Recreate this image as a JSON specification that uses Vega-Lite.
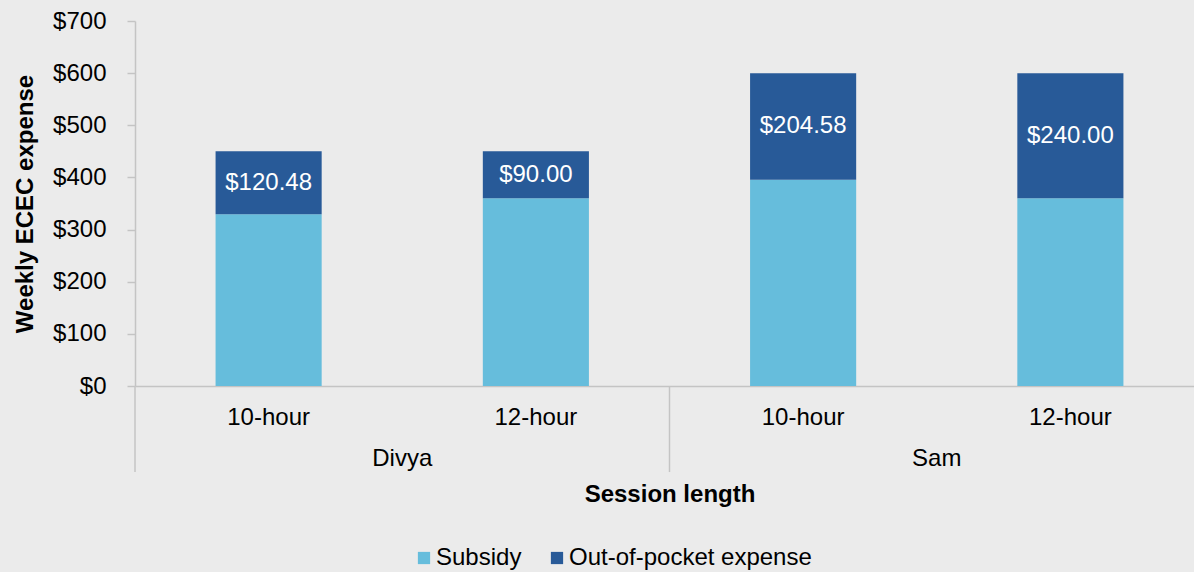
{
  "$schema": "https://vega.github.io/schema/vega-lite/v6.json",
  "autosize": {"type": "none"},
  "width": 1059,
  "height": 365,
  "padding": {"left": 135, "top": 21, "right": 0, "bottom": 186},
  "background": "#EBEBEB",
  "config": {
    "view": {"stroke": null},
    "font": "Liberation Sans",
    "axis": {"grid": false, "labelFont": "Liberation Sans", "titleFont": "Liberation Sans", "labelColor": "#000000", "titleColor": "#000000", "domainColor": "#C4C4C4", "tickColor": "#C4C4C4", "domainWidth": 1.5, "tickWidth": 1.5},
    "legend": {"labelFont": "Liberation Sans"}
  },
  "data": {
    "values": [
      {"person": "Divya", "session": "10-hour", "slot": "Divya 10-hour", "type": "Subsidy", "value": 329.52},
      {"person": "Divya", "session": "10-hour", "slot": "Divya 10-hour", "type": "Out-of-pocket expense", "value": 120.48},
      {"person": "Divya", "session": "12-hour", "slot": "Divya 12-hour", "type": "Subsidy", "value": 360.0},
      {"person": "Divya", "session": "12-hour", "slot": "Divya 12-hour", "type": "Out-of-pocket expense", "value": 90.0},
      {"person": "Sam", "session": "10-hour", "slot": "Sam 10-hour", "type": "Subsidy", "value": 395.42},
      {"person": "Sam", "session": "10-hour", "slot": "Sam 10-hour", "type": "Out-of-pocket expense", "value": 204.58},
      {"person": "Sam", "session": "12-hour", "slot": "Sam 12-hour", "type": "Subsidy", "value": 360.0},
      {"person": "Sam", "session": "12-hour", "slot": "Sam 12-hour", "type": "Out-of-pocket expense", "value": 240.0}
    ]
  },
  "layer": [
    {
      "mark": {"type": "bar", "width": {"band": 0.397}},
      "encoding": {
        "x": {
          "field": "slot", "type": "nominal",
          "scale": {"domain": ["Divya 10-hour", "Divya 12-hour", "Sam 10-hour", "Sam 12-hour"], "range": [0, {"expr": "width + 10"}], "paddingInner": 0, "paddingOuter": 0},
          "axis": {"title": "Session length", "titleFontSize": 24, "titleFontWeight": "bold", "titlePadding": 53, "labelFontSize": 24, "labelExpr": "split(datum.label, ' ')[1]", "ticks": false, "labelPadding": 19, "labelAngle": 0}
        },
        "y": {
          "field": "value", "type": "quantitative", "stack": "zero",
          "scale": {"domain": [0, 700], "nice": false},
          "axis": {"title": "Weekly ECEC expense", "titleFontSize": 24, "titleFontWeight": "bold", "titlePadding": 15, "labelFontSize": 24, "format": "$.0f", "values": [0, 100, 200, 300, 400, 500, 600, 700], "tickSize": 8, "labelPadding": 21}
        },
        "color": {
          "field": "type", "type": "nominal",
          "scale": {"domain": ["Subsidy", "Out-of-pocket expense"], "range": ["#66BDDC", "#285A98"]},
          "legend": {"title": null, "orient": "none", "legendX": 277, "legendY": 525, "direction": "horizontal", "symbolType": "square", "symbolSize": 150, "symbolStrokeWidth": 0, "symbolOpacity": 1, "labelFontSize": 24, "labelColor": "#000000", "labelOffset": 0, "columnPadding": 23, "labelLimit": 0}
        },
        "order": {"field": "type", "sort": "descending"}
      }
    },
    {
      "transform": [
        {"stack": "value", "groupby": ["slot"], "sort": [{"field": "type", "order": "descending"}], "as": ["v0", "v1"]},
        {"filter": "datum.type === 'Out-of-pocket expense'"},
        {"calculate": "(datum.v0 + datum.v1) / 2", "as": "mid"}
      ],
      "mark": {"type": "text", "color": "#FFFFFF", "fontSize": 24, "baseline": "middle", "align": "center"},
      "encoding": {
        "x": {"field": "slot", "type": "nominal"},
        "y": {"field": "mid", "type": "quantitative"},
        "text": {"field": "value", "type": "quantitative", "format": "$.2f"}
      }
    },
    {
      "data": {"values": [{"slot": "Divya 10-hour"}, {"slot": "Sam 10-hour"}]},
      "mark": {"type": "rule", "color": "#C4C4C4", "strokeWidth": 1.5},
      "encoding": {
        "x": {"field": "slot", "type": "nominal", "bandPosition": 0},
        "y": {"datum": 0, "type": "quantitative"},
        "y2": {"datum": -165}
      }
    },
    {
      "data": {"values": [{"slot": "Divya 12-hour", "person": "Divya"}, {"slot": "Sam 12-hour", "person": "Sam"}]},
      "mark": {"type": "text", "fontSize": 24, "color": "#000000", "baseline": "middle", "align": "center"},
      "encoding": {
        "x": {"field": "slot", "type": "nominal", "bandPosition": 0},
        "y": {"datum": -140, "type": "quantitative"},
        "text": {"field": "person", "type": "nominal"}
      }
    }
  ]
}
